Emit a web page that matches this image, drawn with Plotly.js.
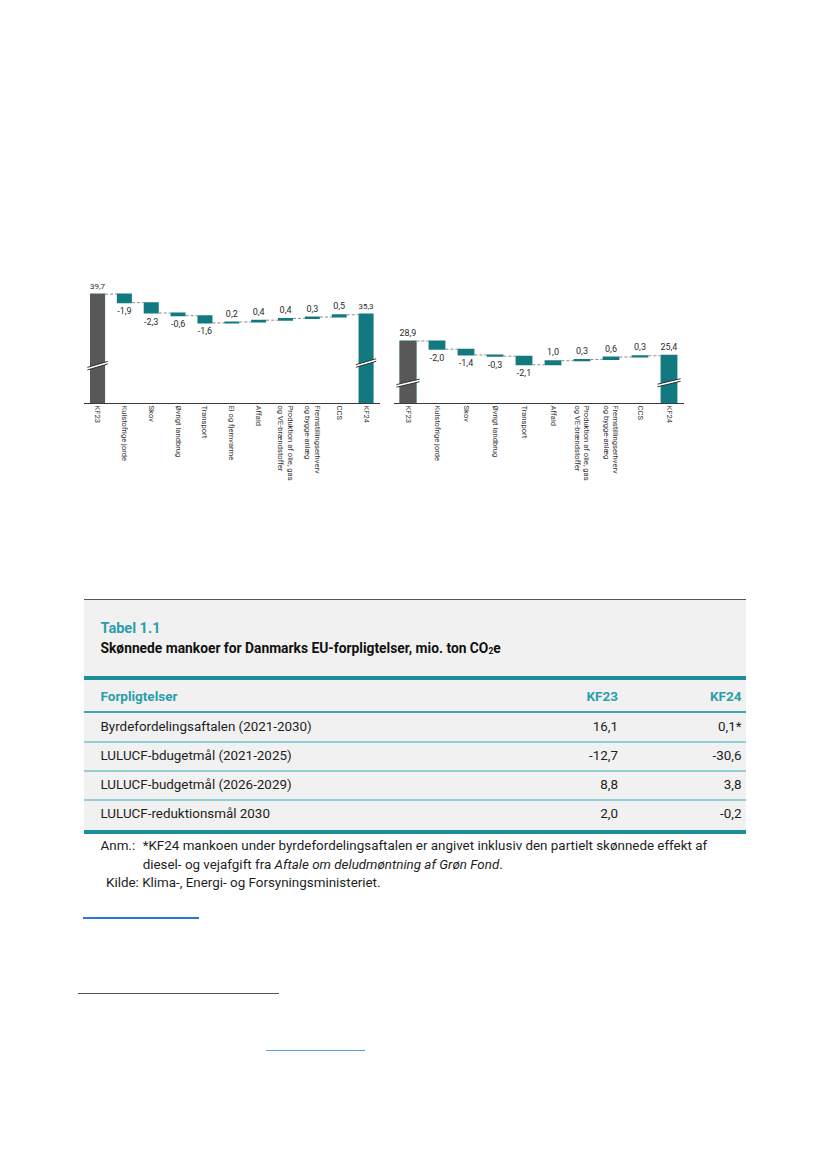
<!DOCTYPE html>
<html>
<head>
<meta charset="utf-8">
<script src="https://cdn.plot.ly/plotly-3.0.1.min.js"></script>
<style>
  html, body { margin:0; padding:0; background:#fff; }
  body { width:826px; height:1170px; position:relative; overflow:hidden; font-family:Roboto, "Liberation Sans", sans-serif; }
  #chart { position:absolute; left:0; top:0; width:826px; height:540px; }
  .ln { position:absolute; }
  .t { position:absolute; white-space:nowrap; line-height:16px; height:16px; }
</style>
</head>
<body>
<div id="chart"></div>
<div id="table"></div>
<script>
// ---------- Data ----------
const cats1 = ['KF23','Kulstofrige jorde','Skov','Øvrigt landbrug','Transport','El og fjernvarme','Affald','Produktion af olie, gas<br>og VE-brændstoffer','Fremstillingserhverv<br>og bygge-anlæg','CCS','KF24'];
const vals1 = [39.7, -1.9, -2.3, -0.6, -1.6, 0.2, 0.4, 0.4, 0.3, 0.5, 35.3];

const cats2 = ['KF23','Kulstofrige jorde','Skov','Øvrigt landbrug','Transport','Affald','Produktion af olie, gas<br>og VE-brændstoffer','Fremstillingserhverv<br>og bygge-anlæg','CCS','KF24'];
const vals2 = [28.9, -2.0, -1.4, -0.3, -2.1, 1.0, 0.3, 0.6, 0.3, 25.4];

const tableTitle = 'Tabel 1.1';
const tableSubtitle = 'Skønnede mankoer for Danmarks EU-forpligtelser, mio. ton CO<sub style="font-size:8.5px;vertical-align:-1px">2</sub>e';
const tableHeaders = ['Forpligtelser','KF23','KF24'];
const tableRows = ['Byrdefordelingsaftalen (2021-2030)','LULUCF-bdugetmål (2021-2025)','LULUCF-budgetmål (2026-2029)','LULUCF-reduktionsmål 2030'];
const tableKF23 = ['16,1','-12,7','8,8','2,0'];
const tableKF24 = ['0,1*','-30,6','3,8','-0,2'];

// ---------- Styles ----------
const TEAL = '#137980';
const GREY = '#585858';
const H = 540, W = 826;
const fmt = v => v.toFixed(1).replace('.', ',');

function waterfall(cats, vals, xa, ya, width) {
  const idx = cats.map((c,i)=>i);
  const measure = vals.map((v,i)=> (i===0 || i===vals.length-1) ? 'absolute' : 'relative');
  return [{
    type:'waterfall', x: idx, y: vals, measure: measure,
    xaxis: xa, yaxis: ya, width: width,
    text: vals.map(fmt), textinfo:'text', textposition:'outside', cliponaxis:false,
    textfont:{size:9, color:'#2a2a2a', family:'Roboto, Liberation Sans, sans-serif'},
    increasing:{marker:{color:TEAL, line:{width:0}}},
    decreasing:{marker:{color:TEAL, line:{width:0}}},
    totals:{marker:{color:TEAL, line:{width:0}}},
    connector:{mode:'between', line:{color:'#8a8a8a', width:1, dash:'3px,2px'}},
    hoverinfo:'skip', showlegend:false
  },{
    type:'bar', x:[idx[0]], y:[vals[0]], xaxis:xa, yaxis:ya, width: width,
    marker:{color:GREY, line:{width:0}}, hoverinfo:'skip', showlegend:false
  }];
}

// pixel geometry -> domains
const c1 = {left:84.1, right:379.5, bottom:403, top:283, y0:15.5, pxPerUnit:4.5};
const c2 = {left:393.5, right:683.5, bottom:403, top:330, y0:13.78, pxPerUnit:4.1};
function dom(c){
  return {
    x:[c.left/W, c.right/W],
    y:[1-c.bottom/H, 1-c.top/H],
    r:[c.y0, c.y0 + (c.bottom-c.top)/c.pxPerUnit]
  };
}
const d1 = dom(c1), d2 = dom(c2);

const data = [...waterfall(cats1, vals1, 'x', 'y', 0.56), ...waterfall(cats2, vals2, 'x2', 'y2', 0.58)];

function xaxisDef(cats, domain, anchor){
  return {
    domain: domain, anchor: anchor, range:[-0.5, cats.length-0.5],
    tickmode:'array', tickvals: cats.map((c,i)=>i), ticktext: cats,
    tickangle: 90, ticks:'', showline:true, linecolor:'#3a3a3a', linewidth:1,
    showgrid:false, zeroline:false, fixedrange:true,
    tickfont:{size:7.6, color:'#333', family:'Roboto, Liberation Sans, sans-serif'}
  };
}
function yaxisDef(d, anchor){
  return {domain:d.y, range:d.r, anchor:anchor, visible:false, showgrid:false, zeroline:false, fixedrange:true};
}

// axis break markers
function breakShapes(xref, yref, pos, yv, halfW, pxPerUnit, risePx, gapPx){
  const rise = risePx/pxPerUnit, gap = gapPx/pxPerUnit;
  const x0 = pos-halfW, x1 = pos+halfW;
  const ya = yv - rise/2, yb = yv + rise/2;
  return [
    {type:'path', xref, yref, path:`M ${x0},${ya} L ${x1},${yb} L ${x1},${yb+gap} L ${x0},${ya+gap} Z`, fillcolor:'#ffffff', line:{width:0}, layer:'above'},
    {type:'line', xref, yref, x0, y0:ya, x1, y1:yb, line:{color:'#222', width:0.9}, layer:'above'},
    {type:'line', xref, yref, x0, y0:ya+gap, x1, y1:yb+gap, line:{color:'#222', width:0.9}, layer:'above'}
  ];
}
const shapes = [
  ...breakShapes('x','y',0,23.5,0.38,c1.pxPerUnit,6,2.6),
  ...breakShapes('x','y',cats1.length-1,24.1,0.38,c1.pxPerUnit,6,2.6),
  ...breakShapes('x2','y2',0,18.3,0.40,c2.pxPerUnit,5.5,2.6),
  ...breakShapes('x2','y2',cats2.length-1,18.4,0.40,c2.pxPerUnit,5.5,2.6)
];

const layout = {
  width: W, height: H, margin:{l:0,r:0,t:0,b:0},
  paper_bgcolor:'rgba(0,0,0,0)', plot_bgcolor:'rgba(0,0,0,0)',
  showlegend:false, barmode:'overlay',
  font:{family:'Roboto, Liberation Sans, sans-serif', color:'#333'},
  xaxis: xaxisDef(cats1, d1.x, 'y'),
  yaxis: yaxisDef(d1, 'x'),
  xaxis2: xaxisDef(cats2, d2.x, 'y2'),
  yaxis2: yaxisDef(d2, 'x2'),
  shapes: shapes
};
Plotly.newPlot('chart', data, layout, {displayModeBar:false, staticPlot:true});

// ---------- Table (HTML) ----------
const T = document.getElementById('table');
function add(html){ T.insertAdjacentHTML('beforeend', html); }
function line(l,t,w,h,c){ add(`<div class="ln" style="left:${l}px;top:${t}px;width:${w}px;height:${h}px;background:${c}"></div>`); }
function text(str, l, cy, style, right){
  const pos = right ? `right:${W-l}px;text-align:right;` : `left:${l}px;`;
  add(`<div class="t" style="${pos}top:${cy-8}px;${style}">${str}</div>`);
}
const TBL_L = 84, TBL_W = 662;
add(`<div class="ln" style="left:${TBL_L}px;top:599px;width:${TBL_W}px;height:232px;background:#f1f1f1"></div>`);
line(TBL_L, 598.5, TBL_W, 1, '#555');
const tealTxt = 'color:#2b9eac;font-weight:700;';
text(tableTitle, 100.5, 629, tealTxt+'font-size:14.5px;');
text(tableSubtitle, 100.5, 648, 'color:#111;font-weight:700;font-size:13.8px;');
line(TBL_L, 676, TBL_W, 4, '#1a8f9b');
text(tableHeaders[0], 100.5, 695.5, tealTxt+'font-size:13.5px;');
text(tableHeaders[1], 618, 695.5, tealTxt+'font-size:13.5px;', true);
text(tableHeaders[2], 741.5, 695.5, tealTxt+'font-size:13.5px;', true);
line(TBL_L, 711, TBL_W, 1.5, '#3ea6b0');
const rowCY = [727, 756, 785, 814];
const rowLines = [741, 770, 799];
const rowStyle = 'color:#1e1e1e;font-size:13.4px;';
tableRows.forEach((r,i)=>{
  text(r, 100.5, rowCY[i], rowStyle);
  text(tableKF23[i], 618, rowCY[i], rowStyle, true);
  text(tableKF24[i], 741.5, rowCY[i], rowStyle, true);
});
rowLines.forEach(y=> line(TBL_L, y, TBL_W, 1.5, '#92cfd5'));
line(TBL_L, 830, TBL_W, 4, '#1a8f9b');
const noteStyle = 'color:#1e1e1e;font-size:13.4px;';
text('Anm.:', 100.5, 846, noteStyle);
text('*KF24 mankoen under byrdefordelingsaftalen er angivet inklusiv den partielt skønnede effekt af', 142.7, 846, noteStyle);
text('diesel- og vejafgift fra <i>Aftale om deludmøntning af Grøn Fond</i>.', 142.7, 864.5, noteStyle);
text('Kilde: Klima-, Energi- og Forsyningsministeriet.', 106, 883, noteStyle);

// decorative page lines
line(83.3, 917, 115.7, 1.5, '#2b78d4');
line(78.3, 993, 200.4, 1.2, '#555');
line(265.7, 1049.5, 99.3, 1.5, '#5a9ee6');
</script>
</body>
</html>
